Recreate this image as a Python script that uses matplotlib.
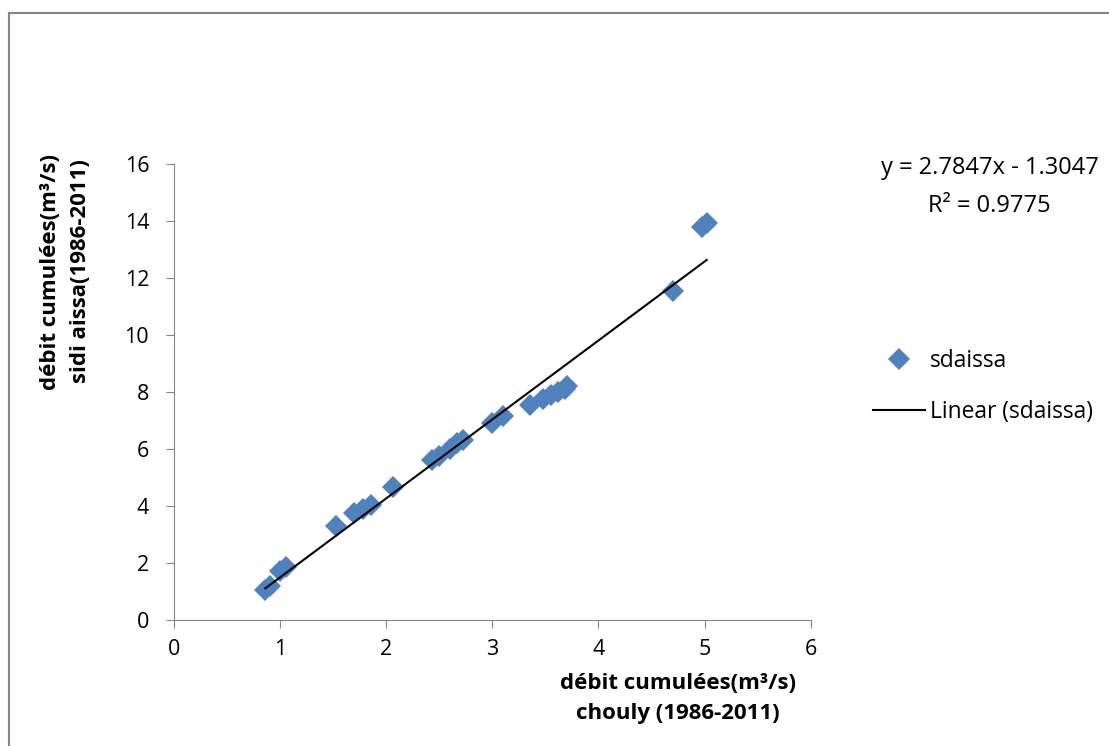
import numpy as np
import matplotlib.pyplot as plt
from matplotlib.patches import Rectangle
from matplotlib.lines import Line2D

plt.rcParams['font.family'] = ['Open Sans', 'DejaVu Sans']

# cumulated discharge, chouly (x) vs sidi aissa (y)
chouly = [0.86, 0.90, 1.00, 1.05, 1.53, 1.70, 1.78, 1.86, 2.06, 2.43, 2.50,
          2.60, 2.67, 2.72, 3.00, 3.10, 3.35, 3.48, 3.55, 3.62, 3.68, 3.70,
          4.70, 4.98, 5.02]
sidi_aissa = [1.05, 1.20, 1.70, 1.85, 3.30, 3.75, 3.90, 4.05, 4.65, 5.60, 5.75,
              6.00, 6.20, 6.30, 6.90, 7.15, 7.55, 7.75, 7.90, 8.00, 8.10, 8.20,
              11.55, 13.80, 13.95]
eq_text = "y = 2.7847x - 1.3047"
r2_text = "R² = 0.9775"

fig = plt.figure(figsize=(11.09, 7.46), dpi=100)
ax = fig.add_axes([0.157, 0.169, 0.574, 0.611])

ax.plot(chouly, sidi_aissa, 'D', color='#4F81BD', ms=11, mew=0, zorder=2)
slope, icpt = np.polyfit(chouly, sidi_aissa, 1)
xs = np.array([min(chouly), max(chouly)])
ax.plot(xs, slope * xs + icpt, color='black', lw=1.5, zorder=3)

ax.set_xlim(0, 6)
ax.set_ylim(0, 16)
ax.set_xticks(range(0, 7))
ax.set_yticks(range(0, 17, 2))
for s in ['top', 'right']:
    ax.spines[s].set_visible(False)
for s in ['left', 'bottom']:
    ax.spines[s].set_color('#868686')
ax.tick_params(colors='#868686', labelcolor='black', labelsize=15.5, length=6)
ax.tick_params(axis='x', pad=8)
ax.tick_params(axis='y', pad=12)

fig.text(0.611, 0.064, "débit cumulées(m³/s)\nchouly (1986-2011)", ha='center',
         va='center', fontsize=16, fontweight='bold', linespacing=1.55)
fig.text(0.059, 0.636, "débit cumulées(m³/s)\nsidi aissa(1986-2011)", ha='center',
         va='center', fontsize=16, fontweight='bold', rotation=90, linespacing=1.55)

fig.text(0.893, 0.775, eq_text, ha='center', va='center', fontsize=17)
fig.text(0.892, 0.724, r2_text, ha='center', va='center', fontsize=17)

fig.legend(handles=[Line2D([], [], ls='', marker='D', color='#4F81BD', ms=11, mew=0),
                    Line2D([], [], color='black', lw=1.5)],
           labels=['sdaissa', 'Linear (sdaissa)'],
           loc='center left', bbox_to_anchor=(0.787, 0.482), frameon=False,
           fontsize=16.4, handlelength=2.3, labelspacing=1.2, handletextpad=0.2,
           borderpad=0, borderaxespad=0)

fig.add_artist(Rectangle((0.0077, -0.1), 1.1, 1.0826, transform=fig.transFigure,
                         fill=False, edgecolor='#868686', lw=1.5))

fig.savefig('out.png', dpi=100)
